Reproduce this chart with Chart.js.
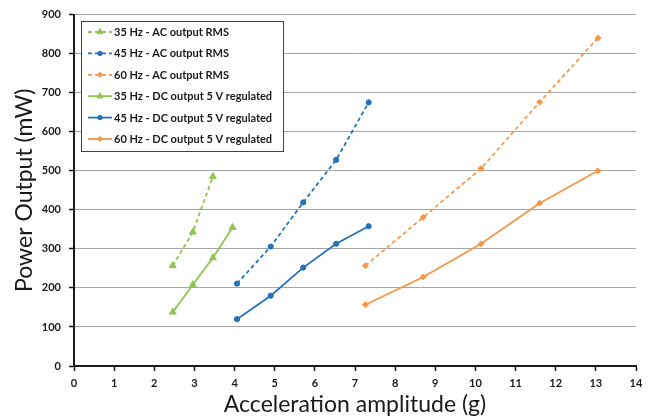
<!DOCTYPE html>
<html>
<head>
<meta charset="utf-8">
<script src="https://cdn.jsdelivr.net/npm/chart.js@4/dist/chart.umd.min.js"></script>
<style>
  html, body { margin: 0; padding: 0; background: #fff; }
  #wrap { width: 655px; height: 420px; }
</style>
</head>
<body>
<div id="wrap"><canvas id="powerChart" width="655" height="420"></canvas></div>
<script>
// acceleration amplitude (g) per frequency
const accel35 = [2.46, 2.96, 3.46, 3.95];
const accel45 = [4.06, 4.90, 5.71, 6.53, 7.34];
const accel60 = [7.26, 8.70, 10.14, 11.60, 13.05];

// power output (mW)
const ac35 = [257, 343, 485];
const ac45 = [211, 306, 419, 528, 675];
const ac60 = [257, 381, 506, 676, 840];
const dc35 = [138, 208, 277, 355];
const dc45 = [120, 180, 252, 313, 358];
const dc60 = [157, 228, 313, 417, 500];

const seriesLabels = [
    '35 Hz - AC output RMS',
    '45 Hz - AC output RMS',
    '60 Hz - AC output RMS',
    '35 Hz - DC output 5 V regulated',
    '45 Hz - DC output 5 V regulated',
    '60 Hz - DC output 5 V regulated'
];

const xTicks = [0, 1, 2, 3, 4, 5, 6, 7, 8, 9, 10, 11, 12, 13, 14];
const yTicks = [0, 100, 200, 300, 400, 500, 600, 700, 800, 900];

const green = '#92c353';
const blue = '#2472b8';
const orange = '#f79646';

function pairs(xs, ys) {
    return ys.map((y, i) => ({ x: xs[i], y: y }));
}

function makeSet(label, xs, ys, color, shape, dashed) {
    return {
        label: label,
        data: pairs(xs, ys),
        borderColor: color,
        backgroundColor: color,
        borderWidth: 1.8,
        borderDash: dashed ? [4, 3] : [],
        pointStyle: shape,
        pointRadius: shape === 'triangle' ? 4 : (shape === 'circle' ? 2.6 : 3),
        pointBorderWidth: 1,
        pointBorderColor: color,
        pointBackgroundColor: color,
        showLine: true,
        tension: 0
    };
}

const datasets = [
    makeSet(seriesLabels[0], accel35, ac35, green, 'triangle', true),
    makeSet(seriesLabels[1], accel45, ac45, blue, 'circle', true),
    makeSet(seriesLabels[2], accel60, ac60, orange, 'rectRot', true),
    makeSet(seriesLabels[3], accel35, dc35, green, 'triangle', false),
    makeSet(seriesLabels[4], accel45, dc45, blue, 'circle', false),
    makeSet(seriesLabels[5], accel60, dc60, orange, 'rectRot', false)
];

// legend box drawn inside the plot, Excel style
const boxLegend = {
    id: 'boxLegend',
    afterDraw(chart) {
        const ctx = chart.ctx;
        const left = 81, top = 21, w = 202, h = 130;
        ctx.save();
        ctx.fillStyle = '#fff';
        ctx.fillRect(left, top, w, h);
        ctx.strokeStyle = '#404040';
        ctx.lineWidth = 1;
        ctx.strokeRect(left + 0.5, top + 0.5, w, h);

        ctx.font = 'bold 11px Lato';
        ctx.textBaseline = 'middle';
        chart.data.datasets.forEach((ds, i) => {
            const y = 32 + i * 21.4;
            ctx.strokeStyle = ds.borderColor;
            ctx.lineWidth = 1.8;
            ctx.setLineDash(ds.borderDash);
            ctx.beginPath();
            ctx.moveTo(88, y);
            ctx.lineTo(112, y);
            ctx.stroke();
            ctx.setLineDash([]);
            ctx.fillStyle = ds.borderColor;
            ctx.lineWidth = 1;
            Chart.helpers.drawPoint(ctx, {
                pointStyle: ds.pointStyle,
                radius: ds.pointRadius * 0.85,
                rotation: 0,
                borderWidth: 1
            }, 100, y);
            ctx.fillStyle = '#1a1a1a';
            ctx.fillText(ds.label, 114, y + 0.5);
        });
        ctx.restore();
    }
};

function build() {
    const ctx = document.getElementById('powerChart').getContext('2d');
    new Chart(ctx, {
        type: 'scatter',
        data: { datasets: datasets },
        options: {
            responsive: false,
            animation: false,
            devicePixelRatio: 1,
            layout: { padding: { top: 13, right: 19, left: 0, bottom: 0 } },
            scales: {
                x: {
                    type: 'linear',
                    min: 0,
                    max: 14,
                    afterBuildTicks: (scale) => { scale.ticks = xTicks.map(v => ({ value: v })); },
                    afterFit: (scale) => { scale.height = 54; },
                    border: { color: '#1a1a1a', width: 2 },
                    grid: { drawOnChartArea: false, tickColor: '#1a1a1a', tickLength: 5, tickWidth: 1.5 },
                    ticks: { color: '#1a1a1a', padding: 6, font: { family: 'Lato', size: 11, weight: 'bold' } },
                    title: {
                        display: true,
                        text: 'Acceleration amplitude (g)',
                        color: '#1a1a1a',
                        font: { family: 'Lato', size: 23 },
                        padding: { top: 0, bottom: 2 }
                    }
                },
                y: {
                    type: 'linear',
                    min: 0,
                    max: 900,
                    afterBuildTicks: (scale) => { scale.ticks = yTicks.map(v => ({ value: v })); },
                    afterFit: (scale) => { scale.width = 74; },
                    border: { color: '#1a1a1a', width: 2 },
                    grid: { color: '#a6a6a6', lineWidth: 1, tickColor: '#1a1a1a', tickLength: 5, tickWidth: 1.5 },
                    ticks: { color: '#1a1a1a', padding: 8, font: { family: 'Lato', size: 11, weight: 'bold' } },
                    title: {
                        display: true,
                        text: 'Power Output (mW)',
                        color: '#1a1a1a',
                        font: { family: 'Lato', size: 23 },
                        padding: { top: 11, bottom: 0 }
                    }
                }
            },
            plugins: {
                legend: { display: false },
                tooltip: { enabled: false }
            }
        },
        plugins: [boxLegend]
    });
}

Promise.all([
    document.fonts.load('bold 11px Lato'),
    document.fonts.load('23px Lato')
]).then(build, build);
</script>
</body>
</html>
